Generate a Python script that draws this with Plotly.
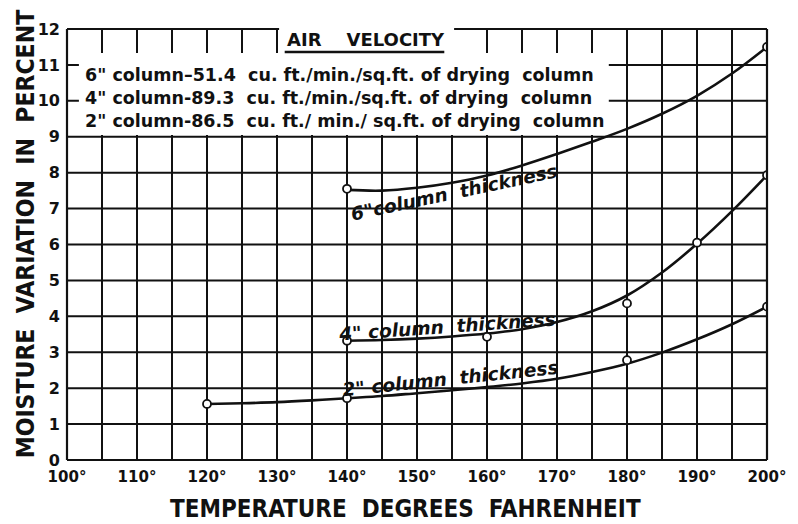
import plotly.graph_objects as go

# ---- data ----
temps_6 = [140, 145, 150, 155, 160, 165, 170, 175, 180, 185, 190, 195, 200]
curve_6 = [7.52, 7.50, 7.58, 7.72, 7.92, 8.20, 8.52, 8.86, 9.22, 9.64, 10.14, 10.76, 11.5]

temps_4 = [140, 145, 150, 155, 160, 165, 170, 175, 180, 185, 190, 195, 200]
curve_4 = [3.32, 3.34, 3.38, 3.44, 3.52, 3.64, 3.84, 4.14, 4.58, 5.22, 6.02, 6.93, 7.93]

temps_2 = [120, 125, 130, 135, 140, 145, 150, 155, 160, 165, 170, 175, 180, 185, 190, 195, 200]
curve_2 = [1.56, 1.58, 1.61, 1.66, 1.72, 1.78, 1.86, 1.94, 2.03, 2.13, 2.26, 2.45, 2.68, 2.99, 3.36, 3.78, 4.27]

pts6_x = [140, 200]
pts6_y = [7.55, 11.5]
pts4_x = [140, 160, 180, 190, 200]
pts4_y = [3.32, 3.43, 4.36, 6.05, 7.93]
pts2_x = [120, 140, 180, 200]
pts2_y = [1.56, 1.72, 2.78, 4.27]

x_ticks = list(range(100, 201, 5))
x_ticktext = [f"{v}°" if v % 10 == 0 else "" for v in x_ticks]
y_ticks = list(range(0, 13))
y_ticktext = [str(v) for v in y_ticks]

legend_title = "AIR\u00a0\u00a0\u00a0\u00a0VELOCITY"
legend_lines = [
    '6"\u00a0column–51.4\u00a0\u00a0cu.\u00a0ft./min./sq.ft.\u00a0of\u00a0drying\u00a0\u00a0column',
    '4"\u00a0column-89.3\u00a0\u00a0cu.\u00a0ft./min./sq.ft.\u00a0of\u00a0drying\u00a0\u00a0column',
    '2"\u00a0column-86.5\u00a0\u00a0cu.\u00a0ft./\u00a0min./\u00a0sq.ft.\u00a0of\u00a0drying\u00a0\u00a0column',
]
curve_labels = ['6"column\u00a0\u00a0thickness', '4"\u00a0column\u00a0\u00a0thickness', '2"\u00a0column\u00a0\u00a0thickness']

FONT = "DejaVu Sans"
NARROW = "Liberation Sans Narrow, DejaVu Sans Condensed, DejaVu Sans"
INK = "#111111"

fig = go.Figure()

for xs, ys in [(temps_6, curve_6), (temps_4, curve_4), (temps_2, curve_2)]:
    fig.add_trace(go.Scatter(x=xs, y=ys, mode="lines",
                             line=dict(color=INK, width=2.6, shape="spline", smoothing=1.0),
                             hoverinfo="skip", showlegend=False))

for xs, ys in [(pts6_x, pts6_y), (pts4_x, pts4_y), (pts2_x, pts2_y)]:
    fig.add_trace(go.Scatter(x=xs, y=ys, mode="markers",
                             marker=dict(symbol="circle", size=8, color="white",
                                         line=dict(color=INK, width=1.8)),
                             showlegend=False))

grid = dict(color=INK, width=2)
shapes = []
# grid lines (drawn as shapes so parts can be masked by the lettering)
for v in x_ticks[1:-1]:
    shapes.append(dict(type="line", xref="x", yref="paper", x0=v, x1=v, y0=0, y1=1,
                       line=grid, layer="below"))
for v in y_ticks[1:-1]:
    shapes.append(dict(type="line", xref="paper", yref="y", x0=0, x1=1, y0=v, y1=v,
                       line=grid, layer="below"))
# white areas hiding the grid behind the lettering
shapes.append(dict(type="rect", xref="x", yref="y", x0=101.7, x1=177.4, y0=9.05, y1=11.33,
                   fillcolor="white", line=dict(width=0), layer="below"))
shapes.append(dict(type="rect", xref="x", yref="paper", x0=130.3, x1=155.3, y0=11.0 / 12, y1=1.03,
                   fillcolor="white", line=dict(width=0), layer="below"))
# frame
frame = dict(color=INK, width=2.2)
shapes += [
    dict(type="line", xref="paper", yref="paper", x0=0, x1=0, y0=0, y1=1, line=frame),
    dict(type="line", xref="paper", yref="paper", x0=1, x1=1, y0=0, y1=1, line=frame),
    dict(type="line", xref="paper", yref="paper", x0=0, x1=1, y0=0, y1=0, line=frame),
    dict(type="line", xref="paper", yref="paper", x0=0, x1=0.303, y0=1, y1=1, line=frame),
    dict(type="line", xref="paper", yref="paper", x0=0.553, x1=1, y0=1, y1=1, line=frame),
    # underline of the AIR VELOCITY heading
    dict(type="line", xref="x", yref="y", x0=131.1, x1=153.9, y0=11.36, y1=11.36,
         line=dict(color=INK, width=2.4)),
]

annotations = [
    dict(text=f"<b>{legend_title}</b>", x=142.7, y=11.72, xref="x", yref="y",
         showarrow=False, font=dict(family=FONT, size=18, color=INK)),
    dict(text="<br>".join(f"<b>{t}</b>" for t in legend_lines), x=102.3, y=10.07,
         xref="x", yref="y", xanchor="left", yanchor="middle", align="left",
         showarrow=False, font=dict(family=FONT, size=17.5, color=INK)),
]
for txt, xv, yv, ang in zip(curve_labels, [155.3, 154.3, 154.8], [7.44, 3.72, 2.28], [-12, -4, -6]):
    annotations.append(dict(text=f"<b><i>{txt}</i></b>", x=xv, y=yv, xref="x", yref="y",
                            showarrow=False, textangle=ang,
                            font=dict(family=FONT, size=18.5, color=INK)))
annotations.append(dict(text="<b>TEMPERATURE\u00a0\u00a0DEGREES\u00a0\u00a0FAHRENHEIT</b>",
                        x=0.484, y=-0.114, xref="paper", yref="paper", showarrow=False,
                        yanchor="middle", font=dict(family=NARROW, size=24, color=INK)))
annotations.append(dict(text="<b>MOISTURE\u00a0\u00a0VARIATION\u00a0\u00a0IN\u00a0\u00a0PERCENT</b>",
                        x=-0.0598, y=0.524, xref="paper", yref="paper", showarrow=False,
                        textangle=-90, xanchor="center", yanchor="middle",
                        font=dict(family=NARROW, size=24.5, color=INK)))

fig.update_layout(
    width=790, height=516,
    margin=dict(l=59, r=29, t=21, b=64),
    paper_bgcolor="white", plot_bgcolor="white",
    shapes=shapes, annotations=annotations,
    xaxis=dict(range=[100, 200], tickvals=x_ticks, ticktext=x_ticktext,
               showgrid=False, zeroline=False, showline=False,
               ticks="", tickfont=dict(family=FONT, size=15, color=INK, weight="bold"),
               ticklabelstandoff=6),
    yaxis=dict(range=[0, 12], tickvals=y_ticks, ticktext=y_ticktext,
               showgrid=False, zeroline=False, showline=False,
               ticks="", tickfont=dict(family=FONT, size=16, color=INK, weight="bold"),
               ticklabelstandoff=6),
    font=dict(family=FONT, color=INK),
)

fig.write_html("out.html")
